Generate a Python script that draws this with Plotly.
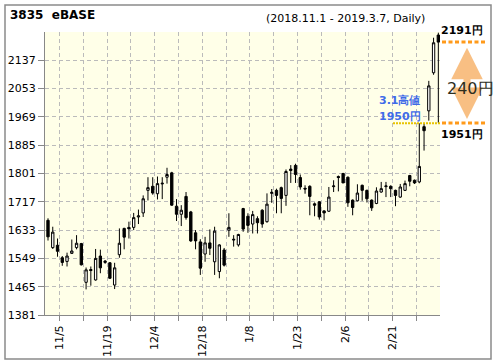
import plotly.graph_objects as go

# ---- data ----
dates = [
    "2018-11-01", "2018-11-02", "2018-11-05", "2018-11-06", "2018-11-07", "2018-11-08", "2018-11-09",
    "2018-11-12", "2018-11-13", "2018-11-14", "2018-11-15", "2018-11-16",
    "2018-11-19", "2018-11-20", "2018-11-21", "2018-11-22",
    "2018-11-26", "2018-11-27", "2018-11-28", "2018-11-29", "2018-11-30",
    "2018-12-03", "2018-12-04", "2018-12-05", "2018-12-06", "2018-12-07",
    "2018-12-10", "2018-12-11", "2018-12-12", "2018-12-13", "2018-12-14",
    "2018-12-17", "2018-12-18", "2018-12-19", "2018-12-20", "2018-12-21",
    "2018-12-25", "2018-12-26", "2018-12-27", "2018-12-28",
    "2019-01-04", "2019-01-07", "2019-01-08", "2019-01-09", "2019-01-10", "2019-01-11",
    "2019-01-15", "2019-01-16", "2019-01-17", "2019-01-18",
    "2019-01-21", "2019-01-22", "2019-01-23", "2019-01-24", "2019-01-25",
    "2019-01-28", "2019-01-29", "2019-01-30", "2019-01-31", "2019-02-01",
    "2019-02-04", "2019-02-05", "2019-02-06", "2019-02-07", "2019-02-08",
    "2019-02-12", "2019-02-13", "2019-02-14", "2019-02-15",
    "2019-02-18", "2019-02-19", "2019-02-20", "2019-02-21", "2019-02-22",
    "2019-02-25", "2019-02-26", "2019-02-27", "2019-02-28", "2019-03-01",
    "2019-03-04", "2019-03-05", "2019-03-06", "2019-03-07",
]
opens = [1662, 1581, 1588, 1551, 1540, 1564, 1581, 1593, 1478, 1516, 1485, 1556, 1537, 1536, 1470, 1560, 1638,
         1641, 1641, 1672, 1684, 1751, 1763, 1741, 1770, 1790, 1803, 1704, 1680, 1733, 1687, 1625, 1598,
         1562, 1595, 1539, 1510, 1574, 1633, 1606, 1589, 1697, 1674, 1651, 1667, 1692, 1658, 1742, 1751,
         1759, 1736, 1814, 1825, 1789, 1757, 1763, 1711, 1717, 1690, 1689, 1762, 1792, 1801, 1790, 1722,
         1720, 1766, 1751, 1722, 1712, 1746, 1762, 1763, 1751, 1731, 1751, 1795, 1781, 1776, 1940, 1987,
         2100, 2212]
highs = [1668, 1643, 1608, 1556, 1566, 1605, 1618, 1595, 1522, 1525, 1577, 1575, 1544, 1538, 1536, 1638, 1640,
         1658, 1684, 1694, 1736, 1790, 1790, 1792, 1790, 1818, 1806, 1725, 1707, 1746, 1690, 1633, 1606,
         1613, 1635, 1643, 1591, 1580, 1683, 1618, 1622, 1699, 1683, 1690, 1674, 1695, 1742, 1755, 1756,
         1762, 1813, 1826, 1830, 1798, 1766, 1766, 1715, 1719, 1692, 1761, 1781, 1795, 1803, 1792, 1724,
         1769, 1768, 1753, 1724, 1760, 1776, 1776, 1766, 1753, 1770, 1780, 1797, 1783, 1950, 1950, 2076,
         2204, 2219]
lows = [1602, 1577, 1554, 1527, 1525, 1562, 1576, 1528, 1457, 1468, 1483, 1505, 1533, 1488, 1458, 1551, 1576,
        1608, 1633, 1651, 1672, 1721, 1738, 1724, 1725, 1771, 1705, 1660, 1645, 1664, 1598, 1576, 1500,
        1539, 1559, 1500, 1490, 1525, 1613, 1584, 1584, 1628, 1625, 1623, 1623, 1640, 1655, 1714, 1683,
        1683, 1705, 1773, 1773, 1753, 1741, 1677, 1674, 1664, 1662, 1687, 1746, 1748, 1773, 1702, 1677,
        1718, 1720, 1715, 1690, 1710, 1744, 1731, 1731, 1704, 1729, 1749, 1763, 1770, 1772, 1869, 1958,
        2094, 1951]
closes = [1613, 1627, 1570, 1537, 1556, 1571, 1594, 1530, 1515, 1513, 1549, 1521, 1541, 1490, 1521, 1594, 1612,
          1637, 1670, 1675, 1726, 1759, 1743, 1771, 1772, 1798, 1707, 1680, 1692, 1670, 1601, 1601, 1520,
          1595, 1579, 1630, 1589, 1529, 1641, 1604, 1620, 1636, 1647, 1679, 1655, 1651, 1710, 1745, 1736,
          1727, 1807, 1810, 1798, 1761, 1755, 1733, 1707, 1672, 1684, 1731, 1764, 1789, 1773, 1714, 1700,
          1743, 1751, 1726, 1699, 1749, 1756, 1764, 1756, 1736, 1761, 1771, 1778, 1773, 1822, 1928, 2061,
          2189, 2191]
y_ticks = [1381, 1465, 1549, 1633, 1717, 1801, 1885, 1969, 2053, 2137]
label_every = 10
label_start = 2

idx = list(range(len(dates)))
def md(d):
    y, m, dd = d.split("-")
    return f"{int(m)}/{int(dd)}"

tickvals = [i + 0.4 for i in range(label_start % 5, len(dates), 5)]
ticktext = [md(dates[i]) if (i - label_start) % label_every == 0 else "" for i in range(label_start % 5, len(dates), 5)]

FONT = "DejaVu Sans"
YMIN, YMAX = 1381, 2221

fig = go.Figure(go.Candlestick(
    x=idx, open=opens, high=highs, low=lows, close=closes,
    increasing=dict(line=dict(color="black", width=1), fillcolor="white"),
    decreasing=dict(line=dict(color="black", width=1), fillcolor="black"),
    whiskerwidth=0, showlegend=False, hoverinfo="skip",
))

L, R, T, B = 45, 440, 32, 315
W, H = 496, 364
def px(x):
    return (x - L) / (R - L)
def py(y):
    return (B - y) / (B - T)
pix_per_unit = (B - T) / (YMAX - YMIN)

fig.update_layout(
    width=W, height=H,
    margin=dict(l=L, r=W - R, t=T, b=H - B, autoexpand=False),
    paper_bgcolor="white", plot_bgcolor="#FFFFE8",
    font=dict(family=FONT, size=11, color="black"),
    hovermode=False,
    xaxis=dict(range=[-0.63, 82.35], rangeslider=dict(visible=False), tickmode="array",
               tickvals=tickvals, ticktext=ticktext, tickangle=-90, ticks="outside", ticklen=5,
               tickcolor="#888", showline=True, linecolor="#888", linewidth=1,
               showgrid=True, gridcolor="#BBBBBB", griddash="4px,3px", gridwidth=1, zeroline=False,
               tickfont=dict(size=11, family=FONT)),
    yaxis=dict(range=[YMIN, YMAX], tickmode="array", tickvals=y_ticks, ticks="outside", ticklen=6,
               tickcolor="#888", showline=True, linecolor="#888", linewidth=1,
               showgrid=True, gridcolor="#BBBBBB", griddash="4px,3px", gridwidth=1, zeroline=False,
               tickfont=dict(size=11, family=FONT)),
)

shapes = []
# outer frame
shapes.append(dict(type="rect", xref="paper", yref="paper", x0=px(5), x1=px(491), y0=py(359), y1=py(5),
                   line=dict(color="#8a8a8a", width=1.5), fillcolor="rgba(0,0,0,0)", layer="above"))
# 3/1 high dotted line
high31 = highs[dates.index("2019-03-01")]
shapes.append(dict(type="line", xref="paper", yref="y", x0=px(393), x1=1.0, y0=high31, y1=high31,
                   line=dict(color="#E8C400", width=2, dash="2px,1px")))
# orange dotted levels outside plot
last_close = closes[-1]
last_low = lows[-1]
for lv in (last_close, last_low):
    shapes.append(dict(type="line", xref="paper", yref="y", x0=px(442), x1=px(487), y0=lv, y1=lv,
                       line=dict(color="#FF9A1A", width=3, dash="4px,2.5px")))
fig.update_layout(shapes=shapes)

ann = []
ann.append(dict(xref="paper", yref="paper", x=px(8), y=py(15), xanchor="left", yanchor="middle",
                text="<b>3835  eBASE</b>", showarrow=False, font=dict(size=12, family=FONT)))
ann.append(dict(xref="paper", yref="paper", x=px(427), y=py(18), xanchor="right", yanchor="middle",
                text="(2018.11.1 - 2019.3.7, Daily)", showarrow=False, font=dict(size=11, family=FONT)))
# double arrow (pixel offset between the two levels)
arrow_len = (last_close - last_low - 24) * pix_per_unit
ann.append(dict(xref="paper", yref="y", x=px(467), y=last_low + 12, axref="pixel", ayref="pixel",
                ax=0, ay=-arrow_len, showarrow=True, arrowside="end+start", arrowhead=2,
                arrowsize=0.9, arrowwidth=7, arrowcolor="rgba(246,170,90,0.75)", text=""))
ann.append(dict(xref="paper", yref="paper", x=px(470), y=py(88), xanchor="center", yanchor="middle",
                text=f"{last_close - last_low}円", showarrow=False,
                font=dict(size=16, family=FONT, color="#2e2e1e")))
ann.append(dict(xref="paper", yref="y", x=px(462), y=last_close, xanchor="center", yanchor="bottom", yshift=3,
                text=f"<b>{last_close}円</b>", showarrow=False, font=dict(size=11, family=FONT)))
ann.append(dict(xref="paper", yref="y", x=px(462), y=last_low, xanchor="center", yanchor="top", yshift=-3,
                text=f"<b>{last_low}円</b>", showarrow=False, font=dict(size=11, family=FONT)))
ann.append(dict(xref="paper", yref="paper", x=px(423), y=py(101), xanchor="right", yanchor="middle",
                text="<b>3.1高値</b>", showarrow=False, font=dict(size=11, family=FONT, color="#3F6BE8")))
ann.append(dict(xref="paper", yref="paper", x=px(423), y=py(116), xanchor="right", yanchor="middle",
                text=f"<b>{high31}円</b>", showarrow=False, font=dict(size=11, family=FONT, color="#3F6BE8")))
fig.update_layout(annotations=ann)

fig.write_html("out.html", config={"displayModeBar": False, "staticPlot": True})
with open("out.html", "r", encoding="utf-8") as f:
    html = f.read()
html = html.replace("<head>", "<head><style>html,body{margin:0;padding:0;overflow:hidden;}</style>", 1)
with open("out.html", "w", encoding="utf-8") as f:
    f.write(html)
